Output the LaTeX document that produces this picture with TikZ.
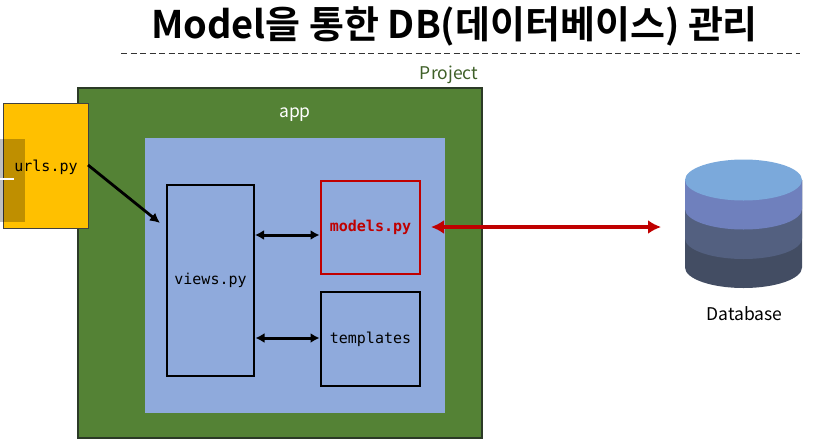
\documentclass[tikz,border=0pt]{standalone}
\usepackage{fontspec}
\setmainfont{Noto Sans CJK KR}
\setmonofont{DejaVu Sans Mono}
\newfontfamily\titlefont{Noto Sans CJK KR Bold}
\usetikzlibrary{arrows.meta,shapes.geometric}
\definecolor{projgreen}{HTML}{548235}
\definecolor{projedge}{HTML}{2B3A26}
\definecolor{projtext}{HTML}{3F6028}
\definecolor{appblue}{HTML}{8FAADC}
\definecolor{urlgold}{HTML}{FFC000}
\definecolor{modred}{HTML}{C00000}
\definecolor{dbA}{HTML}{7BA9DB}
\definecolor{dbB}{HTML}{6F80BD}
\definecolor{dbC}{HTML}{536080}
\definecolor{dbD}{HTML}{434D63}
\newcommand{\lowered}[1]{\raisebox{-1.5pt}{#1}}
\tikzset{
  region/.style={inner sep=0pt,outer sep=0pt},
  codebox/.style={region,draw=black,line width=2.4pt,font=\ttfamily\fontsize{15}{17}\selectfont,text=black},
  link/.style={draw=black,line width=3pt,{Latex[length=9pt,width=10pt]}-{Latex[length=9pt,width=10pt]}},
  dblink/.style={draw=modred,line width=4.4pt,{Latex[length=13pt,width=14pt]}-{Latex[length=13pt,width=14pt]}},
  caption/.style={inner sep=0pt,font=\fontsize{17.5}{20}\selectfont}
}
\begin{document}
\begin{tikzpicture}[x=1pt,y=-1pt]
\useasboundingbox (0,0) rectangle (829,439);
% title
\node[inner sep=0pt,font=\titlefont\fontsize{38}{44}\selectfont] (title) at (454.5,26) {Model을 통한 DB(데이터베이스) 관리};
\coordinate (ruleL) at (121,53.5);
\coordinate (ruleR) at (800,53.5);
\draw[line width=1.4pt,dash pattern=on 6pt off 3.5pt,black!80] (ruleL) -- (ruleR);
% project and app
\node[caption,text=projtext] (projlabel) at (449,74.5) {Project};
\node[region,draw=projedge,line width=1.2pt,fill=projgreen,minimum width=404pt,minimum height=350pt] (project) at (280,263) {};
\node[region,fill=appblue,minimum width=300pt,minimum height=275pt] (app) at (295,275.5) {};
\node[caption,text=white] (applabel) at (295,114.5) {app};
% urls
\node[region,draw=black!75,line width=1pt,fill=urlgold,minimum width=85pt,minimum height=125pt] (urls) at (45.5,165.5) {};
\node[region,font=\ttfamily\fontsize{15}{17}\selectfont,text=black] (urlstext) at (46,167) {urls.py};
\fill[black,opacity=.25] (0,139) rectangle (25,222);
\fill[white] (0,178) rectangle (14,180);
% inner boxes
\node[codebox,minimum width=87pt,minimum height=191pt] (views) at (210.5,280.5) {\lowered{views.py}};
\node[codebox,draw=modred,text=modred,minimum width=99pt,minimum height=93pt,font=\ttfamily\bfseries\fontsize{15}{17}\selectfont] (models) at (370.5,227.5) {\lowered{models.py}};
\node[codebox,minimum width=99pt,minimum height=94pt] (templates) at (370.5,339) {\lowered{templates}};
% connectors
\coordinate (urlsport) at (88,165);
\coordinate (viewsin) at (160,223);
\draw[draw=black,line width=2.8pt,-{Latex[length=10pt,width=10pt]}] (urlsport) -- (viewsin);
\coordinate (vm) at (255,235);
\coordinate (mv) at (319.5,235);
\draw[link] (vm) -- (mv);
\coordinate (vt) at (255.5,338);
\coordinate (tv) at (319.5,338);
\draw[link] (vt) -- (tv);
% database
\fill[dbD] (685,180) -- (685,267.5) .. controls (685,278.8) and (711.2,288) .. (743.5,288) .. controls (775.8,288) and (802,278.8) .. (802,267.5) -- (802,180) -- cycle;
\fill[dbC] (685,180) -- (685,238.5) .. controls (685,249.8) and (711.2,259) .. (743.5,259) .. controls (775.8,259) and (802,249.8) .. (802,238.5) -- (802,180) -- cycle;
\fill[dbB] (685,180) -- (685,209) .. controls (685,220.3) and (711.2,229.5) .. (743.5,229.5) .. controls (775.8,229.5) and (802,220.3) .. (802,209) -- (802,180) -- cycle;
\node[region,ellipse,fill=dbA,minimum width=117pt,minimum height=41pt] (db) at (743.5,180) {};
\node[caption] (dblabel) at (744.5,314) {Database};
\coordinate (modelport) at (431,227);
\coordinate (dbport) at (661,227);
\draw[dblink] (modelport) -- (dbport);
\end{tikzpicture}
\end{document}
